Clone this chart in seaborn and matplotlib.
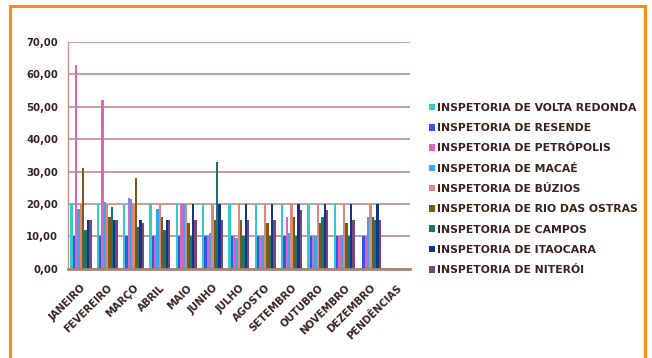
import numpy as np
import pandas as pd
import matplotlib
matplotlib.use("Agg")
import matplotlib.pyplot as plt
import seaborn as sns
from matplotlib.patches import Rectangle

# ── Data ─────────────────────────────────────────────────────────────────────
meses = ["JANEIRO", "FEVEREIRO", "MARÇO", "ABRIL", "MAIO", "JUNHO", "JULHO",
         "AGOSTO", "SETEMBRO", "OUTUBRO", "NOVEMBRO", "DEZEMBRO", "PENDÊNCIAS"]

inspetorias = ["INSPETORIA DE VOLTA REDONDA", "INSPETORIA DE RESENDE",
               "INSPETORIA DE PETRÓPOLIS", "INSPETORIA DE MACAÉ",
               "INSPETORIA DE BÚZIOS", "INSPETORIA DE RIO DAS OSTRAS",
               "INSPETORIA DE CAMPOS", "INSPETORIA DE ITAOCARA",
               "INSPETORIA DE NITERÓI"]

volta_redonda = [20, 20, 20, 20, 20, 20, 20, 20, 20, 20, 20, 0, 0]
resende       = [10, 10, 10, 10, 10, 10, 10, 10, 10, 10, 10, 10, 0]
petropolis    = [63, 52, 22, 10, 20, 10, 10, 10, 16, 10, 10, 10, 0]
macae         = [18.5, 20.5, 21.5, 18.5, 20, 11, 9.5, 10, 11, 10, 10.5, 16, 0]
buzios        = [20, 20, 20, 20, 20, 20, 20, 20, 20, 20, 20, 20, 0]
rio_ostras    = [31, 16, 28, 16, 14, 15, 15, 14, 16, 14, 14, 16, 0]
campos        = [12, 19, 13, 12, 10, 33, 10, 10, 10, 16, 10, 15, 0]
itaocara      = [15, 15, 15, 15, 20, 20, 20, 20, 20, 20, 20, 20, 0]
niteroi       = [15, 15, 14, 15, 15, 15, 15, 15, 18, 18, 15, 15, 0]

series = [volta_redonda, resende, petropolis, macae, buzios,
          rio_ostras, campos, itaocara, niteroi]

cores = ["#33CCCC", "#3355EE", "#DD66BB", "#33A8F0", "#DD8878",
         "#7A5A14", "#16786A", "#14338A", "#7A4678"]

texto = "#3a2420"
grade = "#c4968a"

df = pd.DataFrame({
    "mes": np.tile(meses, len(inspetorias)),
    "inspetoria": np.repeat(inspetorias, len(meses)),
    "valor": np.concatenate(series),
})

# ── Plot ─────────────────────────────────────────────────────────────────────
sns.set_theme(style="white")
plt.rcParams["font.family"] = ["DejaVu Sans"]

fig = plt.figure(figsize=(6.52, 3.58), dpi=100)
ax = fig.add_axes([0.104, 0.249, 0.525, 0.634])

sns.barplot(data=df, x="mes", y="valor", hue="inspetoria",
            hue_order=inspetorias, order=meses, palette=cores,
            width=0.8, gap=0, saturation=1, linewidth=0, ax=ax)

ax.set_ylim(0, 70)
ax.set_xlim(-0.5, len(meses) - 0.5)
ax.set_yticks(range(0, 71, 10))
ax.set_yticklabels([f"{v},00" for v in range(0, 71, 10)],
                   fontsize=7.3, fontweight="bold", color=texto)
ax.set_xticks(range(len(meses)))
ax.set_xticklabels(meses, rotation=45, ha="right", rotation_mode="anchor",
                   fontsize=7.3, fontweight="bold", color=texto)
ax.tick_params(axis="y", length=0, pad=7)
ax.tick_params(axis="x", length=0, pad=10)
ax.set_xlabel("")
ax.set_ylabel("")

ax.yaxis.grid(True, color=grade, linewidth=1.3)
ax.set_axisbelow(True)
for s in ["top", "right"]:
    ax.spines[s].set_visible(False)
ax.spines["left"].set_color(grade)
ax.spines["left"].set_linewidth(1.0)
ax.spines["bottom"].set_color("#a88478")
ax.spines["bottom"].set_linewidth(2.0)

leg = ax.legend(loc="upper left", bbox_to_anchor=(0.650, 0.728),
                bbox_transform=fig.transFigure, frameon=False,
                fontsize=7.8, handlelength=0.55, handleheight=0.55,
                handletextpad=0.2, labelspacing=0.95, borderpad=0)
for t in leg.get_texts():
    t.set_fontweight("bold")
    t.set_color(texto)

# orange frame around the chart
fig.patches.append(Rectangle((10 / 652, -0.05), 635 / 652, 1.0 - 6 / 358 + 0.05,
                             transform=fig.transFigure, fill=False,
                             edgecolor="#FF8C1A", linewidth=2.2))

fig.savefig("out.png", dpi=100)
